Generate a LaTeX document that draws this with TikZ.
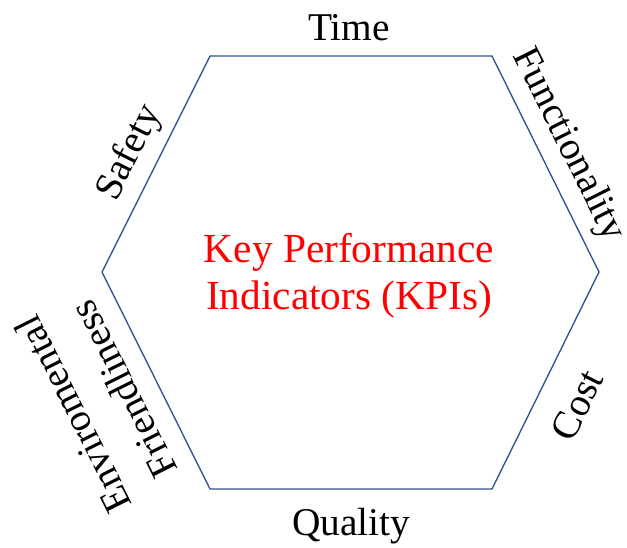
\documentclass[tikz,border=0pt]{standalone}
\usepackage{fontspec}
\setmainfont{Liberation Serif}
\definecolor{edgeblue}{RGB}{47,82,143}
\begin{document}
\begin{tikzpicture}[x=0.75pt,y=-0.75pt,
    side/.style={font=\fontsize{29.5}{42}\selectfont,inner sep=0pt,align=center},
    kpitext/.style={font=\fontsize{31}{35.5}\selectfont,text=red,inner sep=0pt,align=center}]
    \useasboundingbox (0,0) rectangle (627,547);
    % corners of the hexagon
    \coordinate (tl) at (210,56);
    \coordinate (tr) at (492,56);
    \coordinate (r) at (599,272);
    \coordinate (br) at (492,489);
    \coordinate (bl) at (210,489);
    \coordinate (l) at (102,272);
    \draw[edgeblue,line width=1pt] (tl) -- (tr) -- (r) -- (br) -- (bl) -- (l) -- cycle;
    \node[kpitext] (kpi) at (349,276) {Key Performance\\Indicators (KPIs)};
    % labels round the sides
    \node[side,anchor=base] (time) at (349,40) {Time};
    \node[side,rotate=-63.4] (func) at (568,145) {Functionality};
    \node[side,rotate=63.4] (cost) at (577,405) {Cost};
    \node[side,anchor=base] (quality) at (351,535) {Quality};
    \node[side,rotate=116.6] (envfr) at (98,402) {Enviromental\\Friendliness};
    \node[side,rotate=63.4] (safety) at (130,153) {Safety};
\end{tikzpicture}
\end{document}
